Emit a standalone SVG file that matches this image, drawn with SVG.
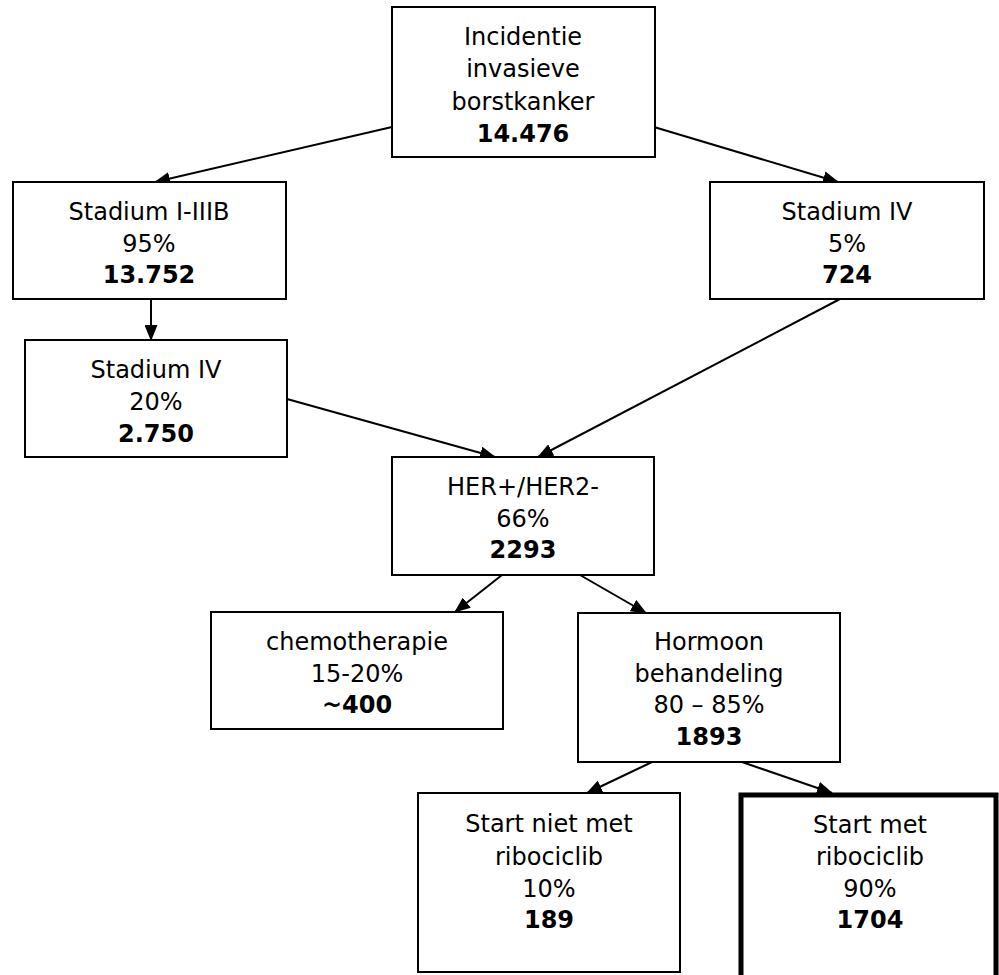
<svg xmlns="http://www.w3.org/2000/svg" width="999" height="975" viewBox="0 0 999 975">
<defs>
<marker id="arr" markerUnits="userSpaceOnUse" markerWidth="16" markerHeight="13" refX="15" refY="6.5" orient="auto">
<path d="M0,0 L16,6.5 L0,13 Z" fill="#000"/>
</marker>
<style>
.box{fill:#fff;stroke:#000;stroke-width:2}
.thick{fill:#fff;stroke:#000;stroke-width:5}
text{font-family:"DejaVu Sans","Verdana",sans-serif;font-size:24px;text-anchor:middle;fill:#000}
.b{font-weight:bold}
.c line{stroke:#000;stroke-width:2;marker-end:url(#arr)}
</style>
</defs>
<rect width="999" height="975" fill="#fff"/>
<g class="c" id="connectors">
<line x1="392" y1="127" x2="155" y2="182"/>
<line x1="654" y1="127" x2="838" y2="182"/>
<line x1="151" y1="299" x2="151" y2="340"/>
<line x1="287" y1="399" x2="495" y2="457"/>
<line x1="840" y1="299" x2="538" y2="457"/>
<line x1="502" y1="575" x2="455" y2="612"/>
<line x1="580" y1="575" x2="646" y2="613"/>
<line x1="652" y1="762" x2="587" y2="793"/>
<line x1="742" y1="762" x2="832" y2="793"/>
</g>
<g id="n-incidentie">
<rect class="box" x="392" y="7" width="263" height="150"/>
<text x="523" y="45">Incidentie</text>
<text x="523" y="77">invasieve</text>
<text x="523" y="110">borstkanker</text>
<text x="523" y="142" class="b">14.476</text>
</g>
<g id="n-stadium-i-iiib">
<rect class="box" x="13" y="182" width="273" height="117"/>
<text x="149" y="220">Stadium I-IIIB</text>
<text x="149" y="252">95%</text>
<text x="149" y="283" class="b">13.752</text>
</g>
<g id="n-stadium-iv-right">
<rect class="box" x="710" y="182" width="274" height="117"/>
<text x="847" y="220">Stadium IV</text>
<text x="847" y="252">5%</text>
<text x="847" y="283" class="b">724</text>
</g>
<g id="n-stadium-iv-left">
<rect class="box" x="25" y="340" width="262" height="117"/>
<text x="156" y="378">Stadium IV</text>
<text x="156" y="410">20%</text>
<text x="156" y="442" class="b">2.750</text>
</g>
<g id="n-her">
<rect class="box" x="392" y="457" width="262" height="118"/>
<text x="523" y="495">HER+/HER2-</text>
<text x="523" y="527">66%</text>
<text x="523" y="558" class="b">2293</text>
</g>
<g id="n-chemo">
<rect class="box" x="211" y="612" width="292" height="117"/>
<text x="357" y="650">chemotherapie</text>
<text x="357" y="682">15-20%</text>
<text x="357" y="713" class="b">~400</text>
</g>
<g id="n-hormoon">
<rect class="box" x="578" y="613" width="262" height="149"/>
<text x="709" y="650">Hormoon</text>
<text x="709" y="682">behandeling</text>
<text x="709" y="713">80 – 85%</text>
<text x="709" y="745" class="b">1893</text>
</g>
<g id="n-start-niet">
<rect class="box" x="418" y="793" width="262" height="179"/>
<text x="549" y="832">Start niet met</text>
<text x="549" y="865">ribociclib</text>
<text x="549" y="897">10%</text>
<text x="549" y="928" class="b">189</text>
</g>
<g id="n-start-met">
<rect class="thick" x="741" y="795" width="255" height="200"/>
<text x="870" y="833">Start met</text>
<text x="870" y="865">ribociclib</text>
<text x="870" y="897">90%</text>
<text x="870" y="928" class="b">1704</text>
</g>
</svg>
